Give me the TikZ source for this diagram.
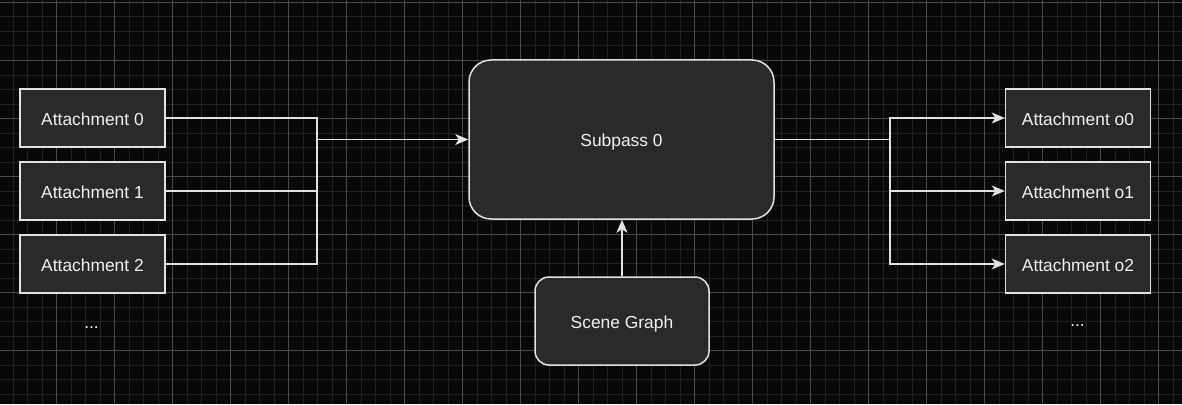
\documentclass[tikz,border=0pt]{standalone}
\usepackage{fontspec}
\setmainfont{Liberation Sans}
\usetikzlibrary{arrows.meta,positioning}
\definecolor{bgdark}{HTML}{080808}
\definecolor{gridminor}{HTML}{222222}
\definecolor{gridmajor}{HTML}{4A4A4A}
\definecolor{boxfill}{HTML}{2A2A2A}
\definecolor{boxline}{HTML}{E2E2E2}
\definecolor{boxtext}{HTML}{F0F0F0}
\tikzset{%
    >={Stealth[length=13pt,width=11pt,inset=3.5pt]},
    every node/.style={font=\fontsize{17.4}{20}\selectfont,text=boxtext},
    att/.style={rectangle,draw=boxline,fill=boxfill,line width=1.5pt,minimum width=145pt,minimum height=58pt,inner sep=0pt,text height=14.5pt,text depth=0pt},
    pass/.style={rectangle,rounded corners=22pt,draw=boxline,fill=boxfill,line width=1.5pt,minimum width=305pt,minimum height=159pt,text height=14.5pt,text depth=0pt},
    scn/.style={rectangle,rounded corners=14pt,draw=boxline,fill=boxfill,line width=1.5pt,minimum width=174pt,minimum height=88pt,text height=14.5pt,text depth=0pt},
    wire/.style={draw=boxline,line width=1.5pt},
    dots/.style={anchor=base,inner sep=0pt}
}

\begin{document}
\begin{tikzpicture}[x=1pt,y=-1pt,node distance=13.5pt]
            \fill[bgdark] (0,0) rectangle (1182,404);
            \useasboundingbox (0,0) rectangle (1182,404);
            %%%%% grid
            \foreach \i in {0,...,82}
                \draw[gridminor,line width=1pt] ({-1.5+14.5*\i},0) -- ({-1.5+14.5*\i},404);
            \foreach \j in {-1,...,27}
                \draw[gridminor,line width=1pt] (0,{2.5+14.5*\j}) -- (1182,{2.5+14.5*\j});
            \foreach \i in {0,...,21}
                \draw[gridmajor,line width=1pt] ({-1.5+58*\i},0) -- ({-1.5+58*\i},404);
            \foreach \j in {0,...,6}
                \draw[gridmajor,line width=1pt] (0,{2.5+58*\j}) -- (1182,{2.5+58*\j});
            %%%%% nodes
            \node [att] (att0) at (92.5,118) {Attachment 0};
            \node [att,below= of att0] (att1) {Attachment 1};
            \node [att,below= of att1] (att2) {Attachment 2};
            \node [dots] (dotsl) at (91.5,328) {...};
            \node [pass] (sub) at (621.5,139.5) {Subpass 0};
            \node [scn] (scene) at (622,321) {Scene Graph};
            \node [att] (out0) at (1078,118) {Attachment o0};
            \node [att,below= of out0] (out1) {Attachment o1};
            \node [att,below= of out1] (out2) {Attachment o2};
            \node [dots] (dotsr) at (1077.5,326) {...};
            \coordinate (jl) at (317,139.5);
            \coordinate (jr) at (890,139.5);
            %%%%%
            \draw[wire] (att0) -| (jl);
            \draw[wire] (att1) -| (jl);
            \draw[wire] (att2) -| (jl);
            \draw[wire,->] (jl) -- (sub);
            \draw[wire] (sub) -- (jr);
            \draw[wire,->] (jr) |- (out0);
            \draw[wire,->] (jr) |- (out1);
            \draw[wire,->] (jr) |- (out2);
            \draw[wire,->] (scene.north) -- (scene.north |- sub.south);
\end{tikzpicture}
\end{document}
